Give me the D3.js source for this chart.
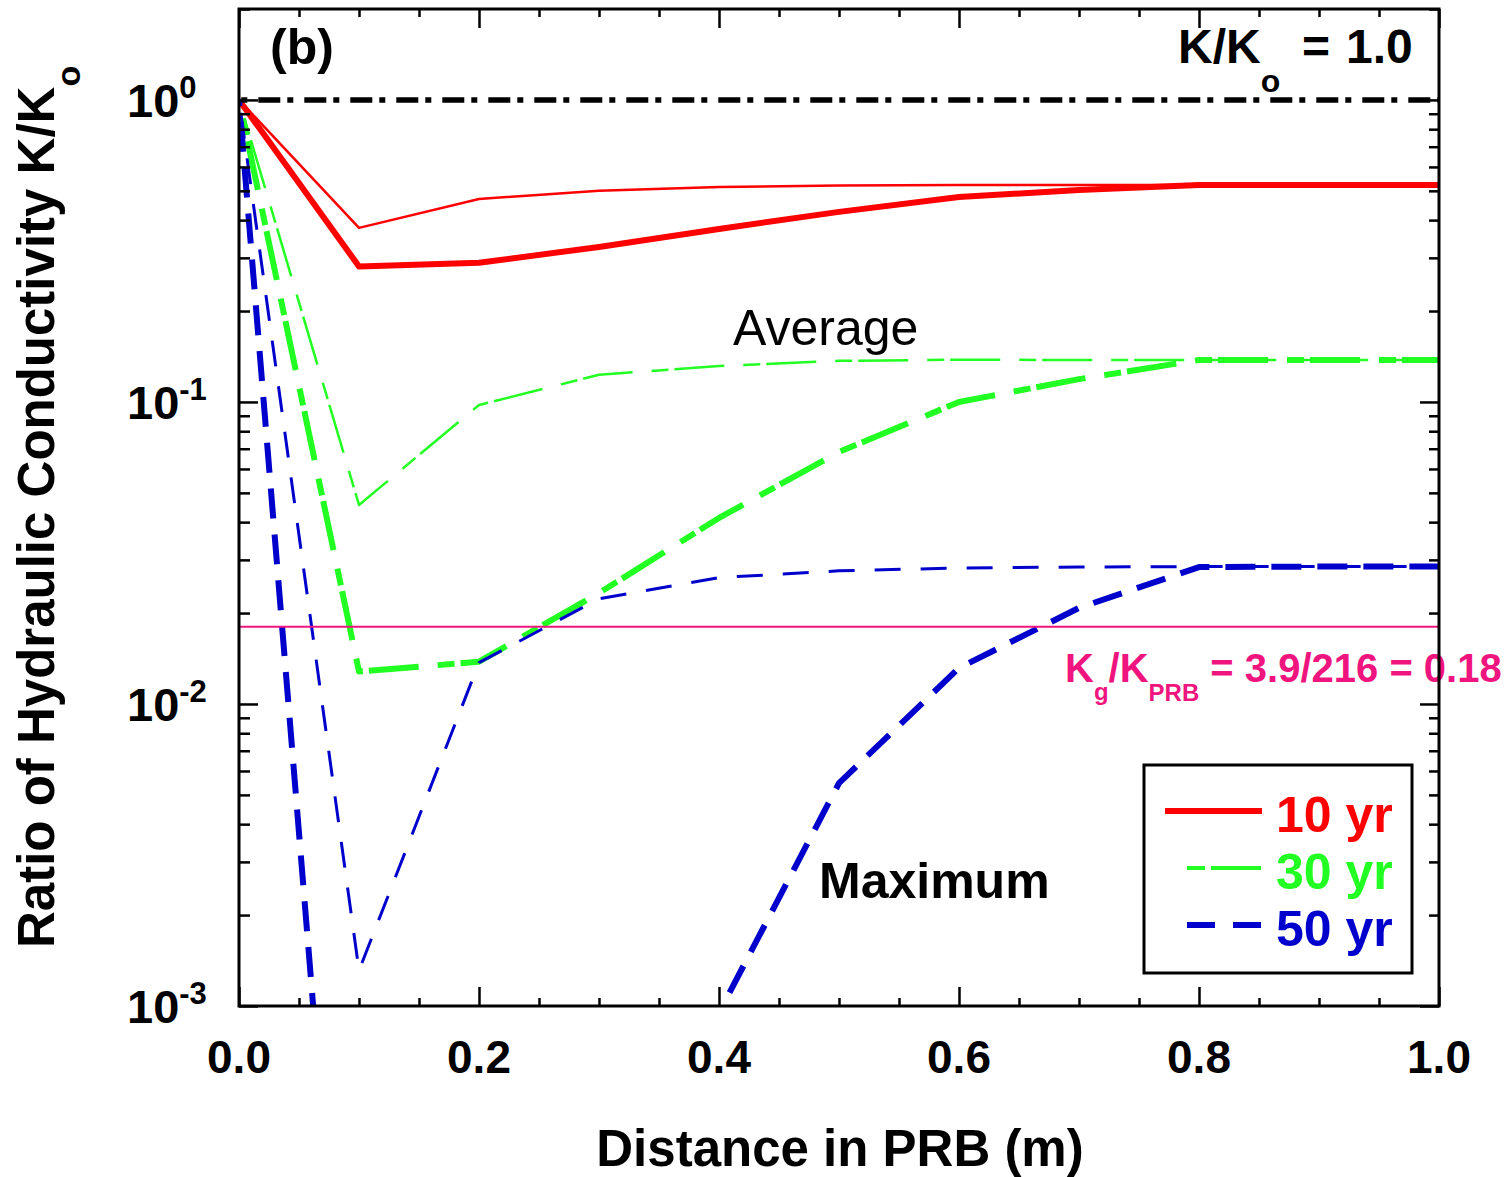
<!DOCTYPE html>
<html><head><meta charset="utf-8">
<script src="https://cdn.jsdelivr.net/npm/d3@7"></script>
<style>
body{margin:0;background:#fff}
svg{display:block}
text{font-family:"Liberation Sans",Arial,Helvetica,sans-serif}
</style>
</head><body>
<svg id="c" width="1511" height="1177"></svg>
<script>
// ---------- data ----------
const distance = [0, 0.1, 0.2, 0.3, 0.4, 0.5, 0.6, 0.7, 0.8, 0.9, 1.0];
const avg10yr  = [1.0, 0.377, 0.470, 0.500, 0.515, 0.521, 0.523, 0.523, 0.523, 0.523, 0.523];
const max10yr  = [1.0, 0.281, 0.289, 0.326, 0.374, 0.426, 0.477, 0.503, 0.523, 0.523, 0.523];
const avg30yr  = [1.0, 0.0456, 0.0977, 0.123, 0.1316, 0.1368, 0.138, 0.1377, 0.1377, 0.1377, 0.1377];
const max30yr  = [1.0, 0.0128, 0.0138, 0.0233, 0.0413, 0.0683, 0.100, 0.119, 0.1377, 0.1377, 0.1377];
const avg50yr  = [1.0, 0.00131, 0.0137, 0.0223, 0.0262, 0.0276, 0.0282, 0.0284, 0.0285, 0.0285, 0.0285];
const max50yr  = [1.0, 0.000014, 0.00002, 0.0001, 0.00095, 0.00547, 0.01316, 0.0208, 0.0284, 0.0285, 0.0285];
const refRatio = 1.0;      // K/Ko = 1.0
const kgRatio  = 0.018;    // Kg/KPRB = 3.9/216
const xMajorTicks = [0, 0.2, 0.4, 0.6, 0.8, 1.0];
const xTickLabels = ["0.0", "0.2", "0.4", "0.6", "0.8", "1.0"];
const yDecades = [1e-3, 1e-2, 1e-1, 1e0];
const yExponents = ["-3", "-2", "-1", "0"];
const legendLabels = ["10 yr", "30 yr", "50 yr"];

// ---------- layout ----------
const L = 239, R = 1439, T = 9, B = 1006;
const svg = d3.select("#c");
const x = d3.scaleLinear().domain([0, 1]).range([L, R]);
const y = d3.scaleLog().domain([1e-3, 2]).range([B, T]);

const RED = "#ff0000", GREEN = "#22ff22", BLUE = "#0000cc", PINK = "#f0147f";

svg.append("defs").append("clipPath").attr("id", "plotclip")
  .append("rect").attr("x", L).attr("y", T).attr("width", R - L).attr("height", B - T);

const line = d3.line().x(d => x(d[0])).y(d => y(d[1]));
const zipS = vals => distance.map((d, i) => [d, vals[i]]);

const series = [
  {v: avg10yr, c: RED,   w: 2.5, dash: null, off: 0},
  {v: max10yr, c: RED,   w: 6,   dash: null, off: 0},
  {v: avg30yr, c: GREEN, w: 2.5, dash: "17,6,50,19", off: 73},
  {v: max30yr, c: GREEN, w: 6,   dash: "17,6,50,19", off: 73},
  {v: avg50yr, c: BLUE,  w: 3,   dash: "26,20", off: 33},
  {v: max50yr, c: BLUE,  w: 6,   dash: "30,16", off: 24}
];

const gData = svg.append("g").attr("clip-path", "url(#plotclip)");
series.forEach(s => {
  gData.append("path")
    .attr("d", line(zipS(s.v)))
    .attr("fill", "none")
    .attr("stroke", s.c)
    .attr("stroke-width", s.w)
    .attr("stroke-linejoin", "round")
    .attr("stroke-dasharray", s.dash)
    .attr("stroke-dashoffset", s.off);
});

// reference lines
gData.append("path")
  .attr("d", line([[0, refRatio], [1, refRatio]]))
  .attr("fill", "none").attr("stroke", "#000").attr("stroke-width", 5.5)
  .attr("stroke-dasharray", "22,7,6,11").attr("stroke-dashoffset", 26.7);
gData.append("path")
  .attr("d", line([[0, kgRatio], [1, kgRatio]]))
  .attr("fill", "none").attr("stroke", PINK).attr("stroke-width", 2);

// ---------- annotations ----------
svg.append("text").attr("x", 733).attr("y", 345)
  .attr("font-size", 50).attr("font-weight", "normal").text("Average");
svg.append("text").attr("x", 819).attr("y", 898)
  .attr("font-size", 50).attr("font-weight", "bold").text("Maximum");
svg.append("text").attr("x", 270).attr("y", 64)
  .attr("font-size", 50).attr("font-weight", "bold").text("(b)");

const kt = svg.append("text").attr("x", 1178).attr("y", 63)
  .attr("font-size", 48).attr("font-weight", "bold");
kt.append("tspan").text("K/K");
kt.append("tspan").attr("font-size", 32).attr("dy", 29).text("o");
kt.append("tspan").attr("x", 1302).attr("dy", -29).text("=");
kt.append("tspan").attr("x", 1346).text("1.0");

const kg = svg.append("text").attr("x", 1065).attr("y", 682)
  .attr("font-size", 40).attr("font-weight", "bold").attr("fill", PINK);
kg.append("tspan").text("K");
kg.append("tspan").attr("font-size", 24).attr("dy", 18).text("g");
kg.append("tspan").attr("dy", -18).text("/K");
kg.append("tspan").attr("font-size", 24).attr("dy", 19).text("PRB");
kg.append("tspan").attr("dy", -19).text(" = 3.9/216 = 0.18");

// ---------- legend ----------
const lg = svg.append("g");
lg.append("rect").attr("x", 1144).attr("y", 765).attr("width", 268).attr("height", 208)
  .attr("fill", "#fff").attr("stroke", "#000").attr("stroke-width", 3);
const legendItems = [
  {c: RED,   w: 6, dash: null,          x0: 1165, yy: 811},
  {c: GREEN, w: 4, dash: "18,6,50,100", x0: 1187, yy: 868},
  {c: BLUE,  w: 6, dash: "28,18",       x0: 1187, yy: 925}
];
legendItems.forEach((it, i) => {
  lg.append("line").attr("x1", it.x0).attr("x2", 1262).attr("y1", it.yy).attr("y2", it.yy)
    .attr("stroke", it.c).attr("stroke-width", it.w).attr("stroke-dasharray", it.dash);
  lg.append("text").attr("x", 1276).attr("y", it.yy + 21)
    .attr("font-size", 50).attr("font-weight", "bold").attr("fill", it.c)
    .text(legendLabels[i]);
});

// ---------- axes ----------
const xMinor = d3.range(0, 1.0001, 0.05).filter(v => !xMajorTicks.some(m => Math.abs(m - v) < 1e-6));
const yMinor = [];
[1e-3, 1e-2, 1e-1, 1e0].forEach(d => { for (let k = 2; k <= 9; k++) { const v = d * k; if (v <= 2.0001) yMinor.push(v); } });

function styleAxis(g) {
  g.select(".domain").remove();
  g.selectAll(".tick line").attr("stroke", "#000").attr("stroke-width", 2.5);
  g.selectAll(".tick text").remove();
}
svg.append("g").attr("transform", `translate(0,${B})`)
  .call(d3.axisBottom(x).tickValues(xMajorTicks).tickSize(-19).tickFormat("")).call(styleAxis);
svg.append("g").attr("transform", `translate(0,${B})`)
  .call(d3.axisBottom(x).tickValues(xMinor).tickSize(-8).tickFormat("")).call(styleAxis);
svg.append("g").attr("transform", `translate(0,${T})`)
  .call(d3.axisTop(x).tickValues(xMajorTicks).tickSize(-19).tickFormat("")).call(styleAxis);
svg.append("g").attr("transform", `translate(0,${T})`)
  .call(d3.axisTop(x).tickValues(xMinor).tickSize(-8).tickFormat("")).call(styleAxis);
svg.append("g").attr("transform", `translate(${L},0)`)
  .call(d3.axisLeft(y).tickValues(yDecades).tickSize(-19).tickFormat("")).call(styleAxis);
svg.append("g").attr("transform", `translate(${L},0)`)
  .call(d3.axisLeft(y).tickValues(yMinor).tickSize(-11).tickFormat("")).call(styleAxis);
svg.append("g").attr("transform", `translate(${R},0)`)
  .call(d3.axisRight(y).tickValues(yDecades).tickSize(-19).tickFormat("")).call(styleAxis);
svg.append("g").attr("transform", `translate(${R},0)`)
  .call(d3.axisRight(y).tickValues(yMinor).tickSize(-10).tickFormat("")).call(styleAxis);

svg.append("rect").attr("x", L).attr("y", T).attr("width", R - L).attr("height", B - T)
  .attr("fill", "none").attr("stroke", "#000").attr("stroke-width", 3);

// tick labels
xMajorTicks.forEach((v, i) => {
  svg.append("text").attr("x", x(v)).attr("y", 1073).attr("text-anchor", "middle")
    .attr("font-size", 46).attr("font-weight", "bold").text(xTickLabels[i]);
});
yDecades.forEach((v, i) => {
  const t = svg.append("text").attr("x", 127).attr("y", y(v) + 17).attr("text-anchor", "start")
    .attr("font-size", 47).attr("font-weight", "bold");
  t.append("tspan").text("10");
  t.append("tspan").attr("font-size", 31).attr("dy", -19).text(yExponents[i]);
});

// axis titles
svg.append("text").attr("x", 840).attr("y", 1166).attr("text-anchor", "middle")
  .attr("font-size", 51).attr("font-weight", "bold").text("Distance in PRB (m)");
const yt = svg.append("text").attr("transform", "translate(54,948) rotate(-90)")
  .attr("font-size", 51).attr("font-weight", "bold");
yt.append("tspan").text("Ratio of Hydraulic Conductivity K/K");
yt.append("tspan").attr("font-size", 34).attr("dy", 26).text("o");
</script>
</body></html>
